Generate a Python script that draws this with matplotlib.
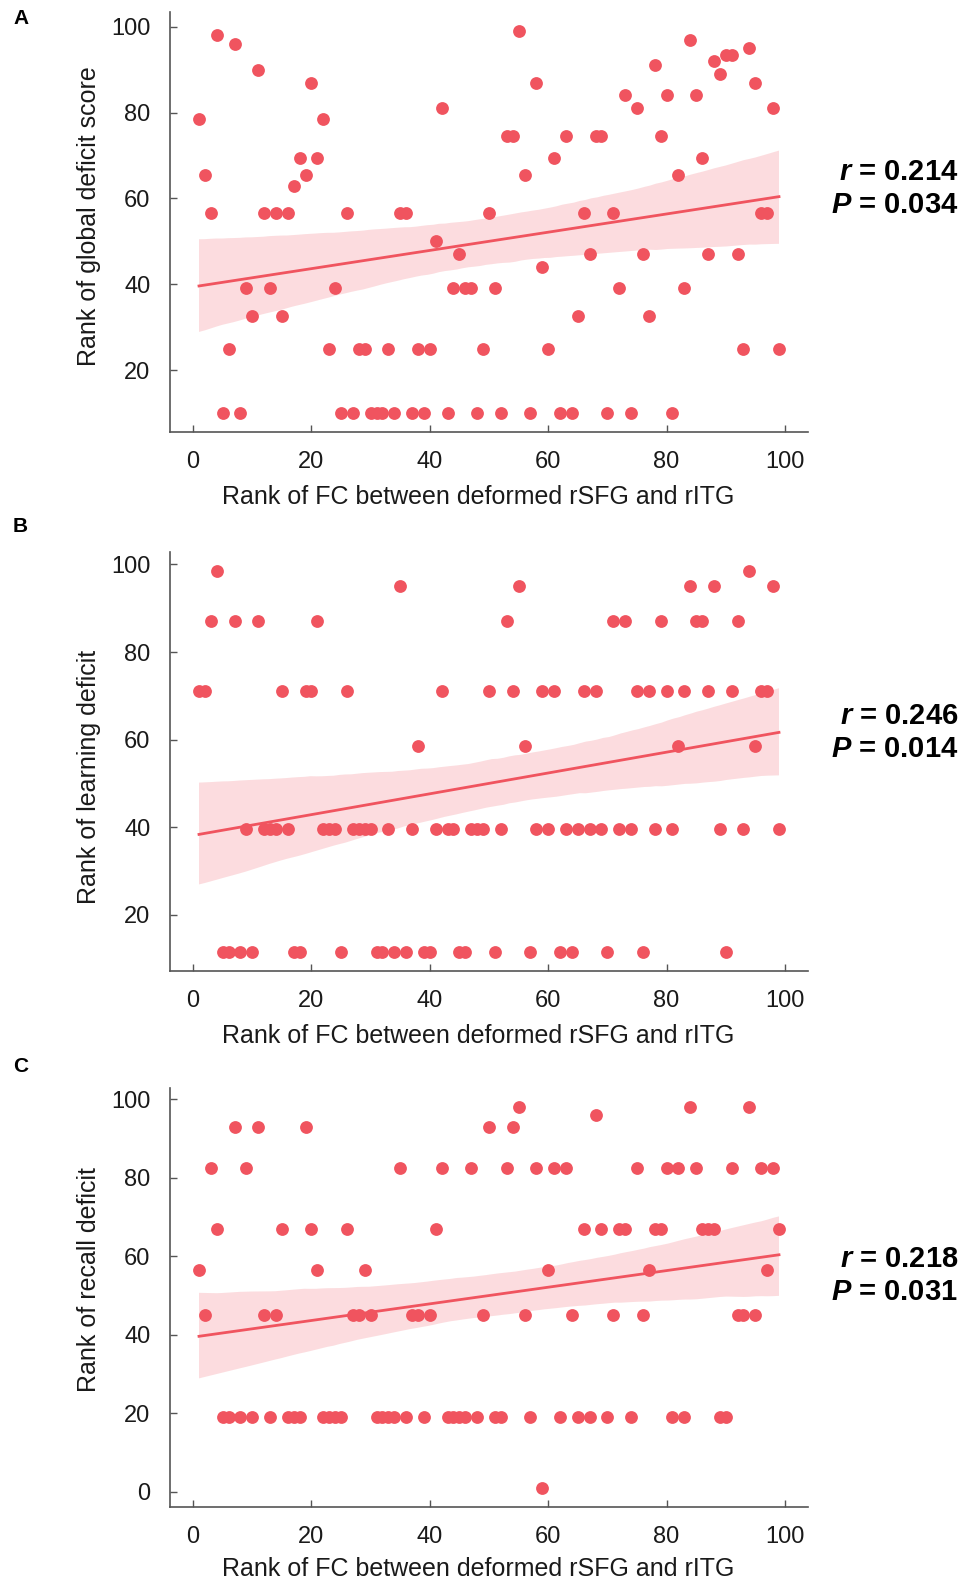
import numpy as np
import matplotlib.pyplot as plt
import seaborn as sns

plt.rcParams['font.family'] = ['Liberation Sans', 'DejaVu Sans']
plt.rcParams['mathtext.fontset'] = 'custom'
plt.rcParams['mathtext.bfit'] = 'Liberation Sans:italic:bold'
plt.rcParams['mathtext.bf'] = 'Liberation Sans:bold'

# Rank of FC between deformed rSFG and rITG (x, shared by all panels)
fc_rank = [1, 2, 3, 4, 5, 6, 7, 8, 9, 10,
           11, 12, 13, 14, 15, 16, 17, 18, 19, 20,
           21, 22, 23, 24, 25, 26, 27, 28, 29, 30,
           31, 32, 33, 34, 35, 36, 37, 38, 39, 40,
           41, 42, 43, 44, 45, 46, 47, 48, 49, 50,
           51, 52, 53, 54, 55, 56, 57, 58, 59, 60,
           61, 62, 63, 64, 65, 66, 67, 68, 69, 70,
           71, 72, 73, 74, 75, 76, 77, 78, 79, 80,
           81, 82, 83, 84, 85, 86, 87, 88, 89, 90,
           91, 92, 93, 94, 95, 96, 97, 98, 99]

# A: rank of global deficit score
global_rank = [78.5, 65.5, 56.5, 98, 10, 25, 96, 10, 39, 32.5,
               90, 56.5, 39, 56.5, 32.5, 56.5, 63, 69.5, 65.5, 87,
               69.5, 78.5, 25, 39, 10, 56.5, 10, 25, 25, 10,
               10, 10, 25, 10, 56.5, 56.5, 10, 25, 10, 25,
               50, 81, 10, 39, 47, 39, 39, 10, 25, 56.5,
               39, 10, 74.5, 74.5, 99, 65.5, 10, 87, 44, 25,
               69.5, 10, 74.5, 10, 32.5, 56.5, 47, 74.5, 74.5, 10,
               56.5, 39, 84, 10, 81, 47, 32.5, 91, 74.5, 84,
               10, 65.5, 39, 97, 84, 69.5, 47, 92, 89, 93.5,
               93.5, 47, 25, 95, 87, 56.5, 56.5, 81, 25]

# B: rank of learning deficit
learning_rank = [71, 71, 87, 98.5, 11.5, 11.5, 87, 11.5, 39.5, 11.5,
                 87, 39.5, 39.5, 39.5, 71, 39.5, 11.5, 11.5, 71, 71,
                 87, 39.5, 39.5, 39.5, 11.5, 71, 39.5, 39.5, 39.5, 39.5,
                 11.5, 11.5, 39.5, 11.5, 95, 11.5, 39.5, 58.5, 11.5, 11.5,
                 39.5, 71, 39.5, 39.5, 11.5, 11.5, 39.5, 39.5, 39.5, 71,
                 11.5, 39.5, 87, 71, 95, 58.5, 11.5, 39.5, 71, 39.5,
                 71, 11.5, 39.5, 11.5, 39.5, 71, 39.5, 71, 39.5, 11.5,
                 87, 39.5, 87, 39.5, 71, 11.5, 71, 39.5, 87, 71,
                 39.5, 58.5, 71, 95, 87, 87, 71, 95, 39.5, 11.5,
                 71, 87, 39.5, 98.5, 58.5, 71, 71, 95, 39.5]

# C: rank of recall deficit
recall_rank = [56.5, 45, 82.5, 67, 19, 19, 93, 19, 82.5, 19,
               93, 45, 19, 45, 67, 19, 19, 19, 93, 67,
               56.5, 19, 19, 19, 19, 67, 45, 45, 56.5, 45,
               19, 19, 19, 19, 82.5, 19, 45, 45, 19, 45,
               67, 82.5, 19, 19, 19, 19, 82.5, 19, 45, 93,
               19, 19, 82.5, 93, 98, 45, 19, 82.5, 1, 56.5,
               82.5, 19, 82.5, 45, 19, 67, 19, 96, 67, 19,
               45, 67, 67, 19, 82.5, 45, 56.5, 67, 67, 82.5,
               19, 82.5, 19, 98, 82.5, 67, 67, 67, 19, 19,
               82.5, 45, 45, 98, 45, 82.5, 56.5, 82.5, 67]

panel_letters = ['A', 'B', 'C']
y_labels = ['Rank of global deficit score', 'Rank of learning deficit', 'Rank of recall deficit']
r_values = ['0.214', '0.246', '0.218']
p_values = ['0.034', '0.014', '0.031']
y_ticks = [[20, 40, 60, 80, 100], [20, 40, 60, 80, 100], [0, 20, 40, 60, 80, 100]]
series = [global_rank, learning_rank, recall_rank]

W, H = 963, 1579
red = '#F0545F'
spine_col = '#555555'

fig = plt.figure(figsize=(W / 100, H / 100), dpi=100)

# axes boxes in pixels: (top, bottom); stats text rows; letter row
boxes = [(12, 432), (552, 971), (1088, 1507)]
stat_rows = [(172, 205), (716, 749), (1259, 1292)]
letter_rows = [19, 527, 1066]
ylabel_pos = [0.513, 0.464, 0.542]
xlabel_pad = [8, 8, 6]

for i in range(3):
    top, bot = boxes[i]
    ax = fig.add_axes([170 / W, 1 - bot / H, 638 / W, (bot - top) / H])
    sns.regplot(x=np.array(fc_rank), y=np.array(series[i]), ax=ax, color=red,
                scatter_kws=dict(s=85, linewidths=0, alpha=1),
                line_kws=dict(lw=2), seed=7 + i)
    for coll in ax.collections[1:]:
        coll.set_alpha(0.2)
        coll.set_edgecolor('none')

    ax.set_xticks([0, 20, 40, 60, 80, 100])
    ax.set_yticks(y_ticks[i])
    ax.tick_params(direction='in', length=5, width=1, color=spine_col,
                   labelsize=17, pad=14, labelcolor='#1a1a1a')
    for s in ['top', 'right']:
        ax.spines[s].set_visible(False)
    for s in ['left', 'bottom']:
        ax.spines[s].set_color(spine_col)
        ax.spines[s].set_linewidth(1.2)

    ax.set_xlabel('Rank of FC between deformed rSFG and rITG', fontsize=18,
                  labelpad=xlabel_pad[i], color='#1a1a1a')
    ax.xaxis.label.set_x(0.483)
    ax.set_ylabel(y_labels[i], fontsize=18, labelpad=7, color='#1a1a1a')
    ax.yaxis.label.set_y(ylabel_pos[i])

    r_y, p_y = stat_rows[i]
    fig.text(958 / W, 1 - r_y / H, r'$\mathbfit{r}$ = ' + r_values[i], ha='right', va='center',
             fontsize=21, fontweight='bold')
    fig.text(958 / W, 1 - p_y / H, r'$\mathbfit{P}$ = ' + p_values[i], ha='right', va='center',
             fontsize=21, fontweight='bold')
    fig.text(13 / W, 1 - letter_rows[i] / H, panel_letters[i], ha='left', va='center',
             fontsize=15, fontweight='bold')

fig.savefig('out.png', dpi=100)
